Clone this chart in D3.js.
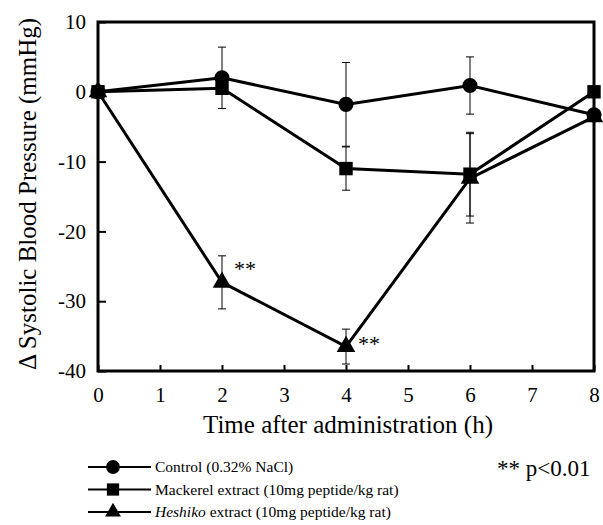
<!DOCTYPE html>
<html>
<head>
<meta charset="utf-8">
<script src="https://cdn.jsdelivr.net/npm/d3@7"></script>
<style>
body { margin: 0; background: #fff; }
svg text { font-family: "Liberation Serif", "DejaVu Serif", serif; fill: #000; }
</style>
</head>
<body>
<svg id="chart" width="603" height="525"></svg>
<script>
// time points (h)
var hours = [0, 2, 4, 6, 8];

var controlMean = [0, 2.0, -1.8, 0.9, -3.3];
var controlErr = [0, 4.4, 6.0, 4.1, 0];

var mackerelMean = [0, 0.5, -11.0, -11.8, 0];
var mackerelErr = [0, 0, 3.1, 6.0, 0];

var heshikoMean = [0, -27.3, -36.5, -12.4, -3.6];
var heshikoErr = [0, 3.8, 2.5, 6.4, 0];

var xTicks = [0, 1, 2, 3, 4, 5, 6, 7, 8];
var yTicks = [10, 0, -10, -20, -30, -40];

var seriesNames = ["Control", "Mackerel", "Heshiko"];

var serif = "'Liberation Serif', 'DejaVu Serif', serif";

var svg = d3.select("#chart").attr("font-family", serif);
var margin = {left: 98, top: 22, right: 9, bottom: 154};
var w = 603 - margin.left - margin.right,
	h = 525 - margin.top - margin.bottom;

var x = d3.scaleLinear().domain([0, 8]).range([0, w]);
var y = d3.scaleLinear().domain([-40, 10]).range([h, 0]);

var g = svg.append("g").attr("transform", "translate(" + margin.left + "," + margin.top + ")");

// axes, ticks pointing inwards
var xAxis = g.append("g").attr("transform", "translate(0," + h + ")")
	.call(d3.axisBottom(x).tickValues(xTicks).tickSizeInner(-6).tickSizeOuter(0).tickPadding(16));
var yAxis = g.append("g")
	.call(d3.axisLeft(y).tickValues(yTicks).tickSizeInner(-8).tickSizeOuter(0).tickPadding(12)
		.tickFormat(function(d) { return d < 0 ? "-" + Math.abs(d) : d; }));

[xAxis, yAxis].forEach(function(a) {
	a.attr("font-family", serif).attr("font-size", null);
	a.select(".domain").remove();
	a.selectAll(".tick line").attr("stroke", "#000").attr("stroke-width", 2);
	a.selectAll(".tick text").style("font-size", "21px").style("font-family", serif).attr("fill", "#000");
});

// frame
g.append("rect")
	.attr("width", w).attr("height", h)
	.attr("fill", "none").attr("stroke", "#000").attr("stroke-width", 3);

var data = [
	{name: seriesNames[0], mean: controlMean, err: controlErr, shape: d3.symbolCircle},
	{name: seriesNames[1], mean: mackerelMean, err: mackerelErr, shape: d3.symbolSquare},
	{name: seriesNames[2], mean: heshikoMean, err: heshikoErr, shape: d3.symbolTriangle}
];

var line = d3.line()
	.x(function(d) { return x(d[0]); })
	.y(function(d) { return y(d[1]); });

// error bars
data.forEach(function(s) {
	hours.forEach(function(t, i) {
		if (!s.err[i]) return;
		var eg = g.append("g").attr("stroke", "#000").attr("stroke-width", 1);
		eg.append("line")
			.attr("x1", x(t)).attr("x2", x(t))
			.attr("y1", y(s.mean[i] + s.err[i])).attr("y2", y(s.mean[i] - s.err[i]));
		[s.mean[i] + s.err[i], s.mean[i] - s.err[i]].forEach(function(v) {
			eg.append("line")
				.attr("x1", x(t) - 4).attr("x2", x(t) + 4)
				.attr("y1", y(v)).attr("y2", y(v));
		});
	});
});

// lines and markers
data.forEach(function(s) {
	var pts = hours.map(function(t, i) { return [t, s.mean[i]]; });
	g.append("path").datum(pts)
		.attr("d", line)
		.attr("fill", "none").attr("stroke", "#000").attr("stroke-width", 3);
	g.selectAll(null).data(pts).enter().append("path")
		.attr("transform", function(d) { return "translate(" + x(d[0]) + "," + y(d[1]) + ")"; })
		.attr("d", d3.symbol().type(s.shape).size(s.shape === d3.symbolTriangle ? 150 : 180))
		.attr("fill", "#000");
});

// significance marks
[[2, heshikoMean[1]], [4, heshikoMean[2]]].forEach(function(p) {
	g.append("text")
		.attr("x", x(p[0]) + 12).attr("y", y(p[1]) - (p[0] === 2 ? 6 : -4))
		.style("font-size", "22px")
		.text("**");
});

// axis titles
svg.append("text")
	.attr("x", margin.left + w / 2 + 2).attr("y", 433)
	.attr("text-anchor", "middle")
	.style("font-size", "25px")
	.text("Time after administration (h)");

svg.append("text")
	.attr("transform", "translate(36,194) rotate(-90)")
	.attr("text-anchor", "middle")
	.style("font-size", "25px")
	.text("\u0394 Systolic Blood Pressure (mmHg)");

// legend
var legendLabels = [
	[{t: "Control (0.32% NaCl)"}],
	[{t: "Mackerel extract (10mg peptide/kg rat)"}],
	[{t: "Heshiko", it: true}, {t: " extract (10mg peptide/kg rat)"}]
];

var legend = svg.append("g").attr("transform", "translate(88,467)");
data.forEach(function(s, i) {
	var row = legend.append("g").attr("transform", "translate(0," + (i * 22.5) + ")");
	row.append("line").attr("x1", 0).attr("x2", 63).attr("y1", 0).attr("y2", 0)
		.attr("stroke", "#000").attr("stroke-width", 2);
	row.append("path")
		.attr("transform", "translate(25,0)")
		.attr("d", d3.symbol().type(s.shape).size(s.shape === d3.symbolTriangle ? 110 : 150))
		.attr("fill", "#000");
	var txt = row.append("text").attr("x", 67).attr("y", 5).style("font-size", "15.5px");
	legendLabels[i].forEach(function(p) {
		txt.append("tspan").style("font-style", p.it ? "italic" : "normal").text(p.t);
	});
});

svg.append("text")
	.attr("x", 497).attr("y", 476)
	.style("font-size", "23px")
	.text("** p<0.01");
</script>
</body>
</html>
